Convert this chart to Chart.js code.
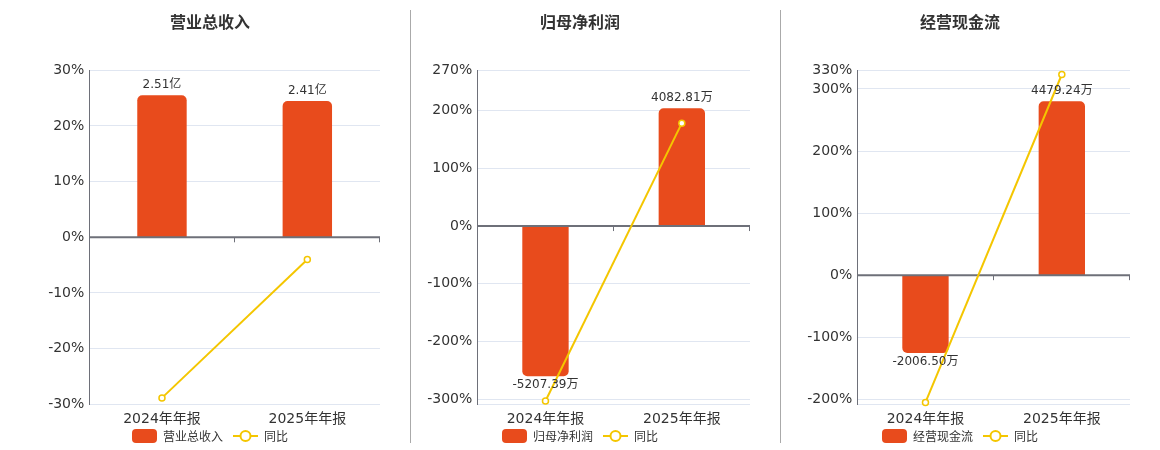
<!DOCTYPE html>
<html><head><meta charset="utf-8">
<script src="https://cdn.jsdelivr.net/npm/chart.js@4.4.1/dist/chart.umd.min.js"></script>
<style>
html,body{margin:0;padding:0;background:#fff;}
body{width:1160px;height:450px;position:relative;overflow:hidden;}
.pane{position:absolute;top:0;width:340px;height:450px;}
.sep{position:absolute;top:10px;width:1px;height:433px;background:#aaaaaa;}
</style></head><body>
<div class="pane" style="left:40px"><canvas id="c1" width="340" height="450"></canvas></div>
<div class="pane" style="left:410px"><canvas id="c2" width="340" height="450"></canvas></div>
<div class="pane" style="left:790px"><canvas id="c3" width="340" height="450"></canvas></div>
<div class="sep" style="left:410px"></div>
<div class="sep" style="left:780px"></div>
<script>
// ---- data ----
const categories = ['2024年年报', '2025年年报'];
const titles = ['营业总收入', '归母净利润', '经营现金流'];
const revenue = [2.51, 2.41];            // 亿
const revenueYoY = [-28.85, -3.98];      // %
const profit = [-5207.39, 4082.81];      // 万
const profitYoY = [-303.3, 178.40];      // %
const cashflow = [-2006.50, 4479.24];    // 万
const cashflowYoY = [-205.0, 323.23];    // %
const units = ['亿', '万', '万'];
const ticks1 = [-30, -20, -10, 0, 10, 20, 30];
const ticks2 = [-300, -200, -100, 0, 100, 200, 270];
const ticks3 = [-200, -100, 0, 100, 200, 300, 330];
const yoyLabel = '同比';

const FONT = '"DejaVu Sans", "Noto Sans CJK SC", sans-serif';
const CJK = '"Noto Sans CJK SC", "DejaVu Sans", sans-serif';
Chart.defaults.font.family = FONT;
const BAR = '#E84B1C';
const LINE = '#F4C600';
const TXT = '#333333';
const AXIS = '#6E7079';
const GRID = '#E0E6F1';

function roundRectPath(g, x, y, w, h, r) {
  g.beginPath();
  g.moveTo(x + r, y); g.lineTo(x + w - r, y); g.arcTo(x + w, y, x + w, y + r, r);
  g.lineTo(x + w, y + h - r); g.arcTo(x + w, y + h, x + w - r, y + h, r);
  g.lineTo(x + r, y + h); g.arcTo(x, y + h, x, y + h - r, r);
  g.lineTo(x, y + r); g.arcTo(x, y, x + r, y, r); g.closePath();
}

const overlay = {
  id: 'overlay',
  afterDatasetDraw(chart, args) {
    if (args.index !== 0) return;
    const { ctx, chartArea } = chart;
    const y = chart.scales.y.getPixelForValue(0);
    const xs = chart.scales.x;
    ctx.save();
    ctx.strokeStyle = AXIS;
    ctx.lineWidth = 2;
    ctx.beginPath(); ctx.moveTo(chartArea.left, y); ctx.lineTo(chartArea.right, y); ctx.stroke();
    ctx.lineWidth = 1;
    for (let i = 0; i < chart.data.labels.length; i++) {
      const x = Math.round(xs.getPixelForValue(i + 0.5)) - 0.5;
      ctx.beginPath(); ctx.moveTo(x, y); ctx.lineTo(x, y + 5); ctx.stroke();
    }
    ctx.restore();
  },
  afterDatasetsDraw(chart) {
    const { ctx } = chart;
    const meta = chart.getDatasetMeta(0);
    const ds = chart.data.datasets[0];
    const unit = chart.options.plugins.overlay.unit;
    ctx.save();
    ctx.font = '12px ' + FONT;
    ctx.fillStyle = TXT;
    ctx.textAlign = 'center';
    meta.data.forEach((el, i) => {
      const v = ds.data[i];
      const txt = v.toFixed(2) + unit;
      if (v >= 0) { ctx.textBaseline = 'bottom'; ctx.fillText(txt, el.x, el.y - 4); }
      else { ctx.textBaseline = 'top'; ctx.fillText(txt, el.x, el.y + 3); }
    });
    ctx.restore();
  },
  afterDraw(chart) {
    // legend
    const { ctx } = chart;
    const ds = chart.data.datasets;
    ctx.save();
    ctx.font = '12px ' + CJK;
    const iconW = 25, gap = 6, itemGap = 10;
    const widths = ds.map(d => iconW + gap + ctx.measureText(d.label).width);
    const total = widths.reduce((a, b) => a + b, 0) + itemGap * (ds.length - 1);
    let x = chart.width / 2 - total / 2;
    const cy = 436;
    ds.forEach((d, i) => {
      if (i === 0) {
        ctx.fillStyle = BAR;
        roundRectPath(ctx, x, cy - 7, iconW, 14, 4);
        ctx.fill();
      } else {
        ctx.strokeStyle = LINE; ctx.lineWidth = 2;
        ctx.beginPath(); ctx.moveTo(x, cy); ctx.lineTo(x + iconW, cy); ctx.stroke();
        ctx.fillStyle = '#fff';
        ctx.beginPath(); ctx.arc(x + iconW / 2, cy, 5, 0, Math.PI * 2); ctx.fill(); ctx.stroke();
      }
      ctx.fillStyle = TXT;
      ctx.textAlign = 'left'; ctx.textBaseline = 'middle';
      ctx.fillText(d.label, x + iconW + gap, cy);
      x += widths[i] + itemGap;
    });
    ctx.restore();
  }
};

function build(id, title, bars, yoy, unit, tickVals, yMin, yMax, k, axisW) {
  const allTicks = tickVals.includes(yMin) ? tickVals.slice() : [yMin].concat(tickVals);
  return new Chart(document.getElementById(id), {
    data: {
      labels: categories,
      datasets: [
        { type: 'bar', label: title, data: bars, yAxisID: 'y2', order: 1,
          backgroundColor: BAR, borderRadius: 5, borderSkipped: 'start',
          barPercentage: 0.34, categoryPercentage: 1 },
        { type: 'line', label: yoyLabel, data: yoy, yAxisID: 'y', order: 0,
          borderColor: LINE, borderWidth: 2, pointRadius: 3, pointBorderWidth: 1.5,
          pointBackgroundColor: '#ffffff', pointBorderColor: LINE, tension: 0, clip: false }
      ]
    },
    options: {
      responsive: false,
      animation: false,
      layout: { autoPadding: false, padding: { left: 0, right: 0, top: 0, bottom: 15.7 } },
      plugins: {
        overlay: { unit: unit },
        tooltip: { enabled: false },
        legend: { display: false },
        title: { display: true, text: title, color: TXT,
          font: { size: 16, weight: 'bold', family: CJK }, padding: { top: 12.4, bottom: 38.7 } }
      },
      scales: {
        x: {
          grid: { display: false, drawTicks: false }, border: { display: false },
          ticks: { color: TXT, font: { size: 14, family: FONT }, padding: 7 },
          afterFit(s) { s.height = 30; s.paddingLeft = 0; s.paddingRight = 0; }
        },
        y: {
          position: 'left', min: yMin, max: yMax,
          afterBuildTicks(s) { s.ticks = allTicks.map(v => ({ value: v })); },
          ticks: { color: TXT, font: { size: 14, family: FONT }, padding: 5,
            callback(v) { return tickVals.includes(v) ? v + '%' : ''; } },
          grid: { drawTicks: false, color(c) { return c.tick && c.tick.value === 0 ? 'rgba(0,0,0,0)' : GRID; } },
          border: { display: true, color: AXIS, width: 1 },
          afterFit(s) { s.width = axisW; }
        },
        y2: { display: false, min: yMin * k, max: yMax * k }
      }
    },
    plugins: [overlay]
  });
}

build('c1', titles[0], revenue, revenueYoY, units[0], ticks1, -30, 30, 0.0984, 49.3);
build('c2', titles[1], profit, profitYoY, units[1], ticks2, -309, 270, 20, 67.3);
build('c3', titles[2], cashflow, cashflowYoY, units[2], ticks3, -208, 330, 16, 67.3);
</script>
</body></html>
